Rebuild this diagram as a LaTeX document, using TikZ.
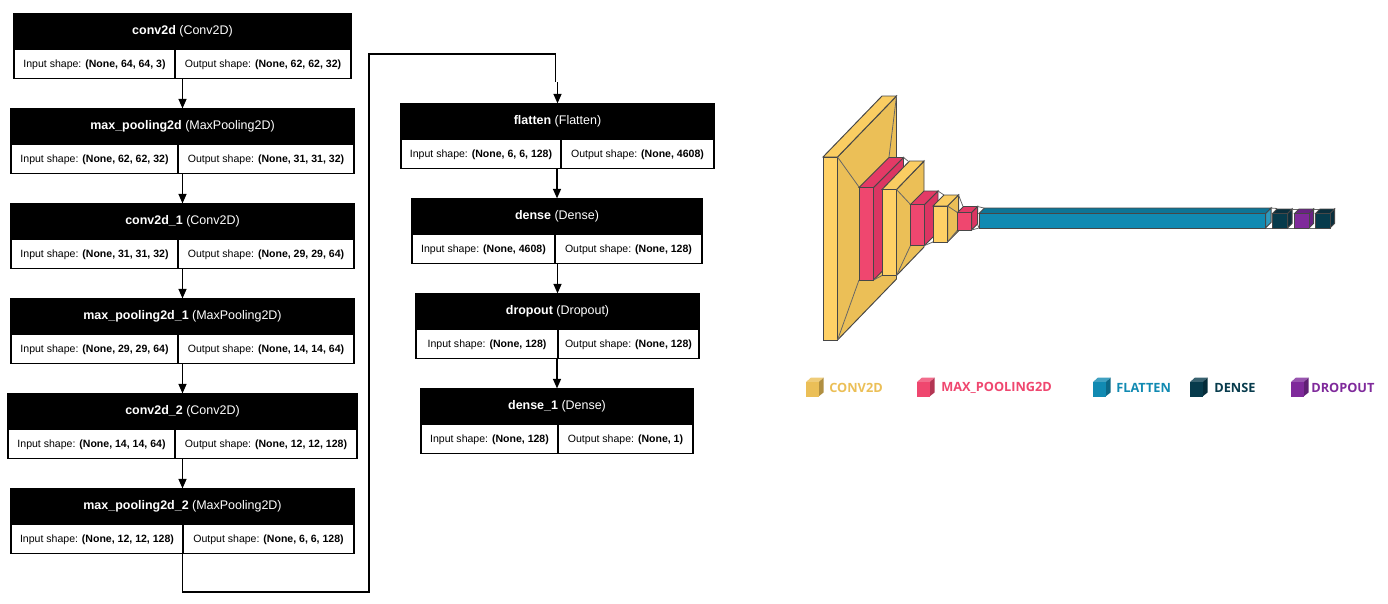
\documentclass[tikz,border=0pt]{standalone}
\usepackage{fontspec}
\setmainfont{Liberation Sans}
\newfontfamily\legendfont{Open Sans}
\usetikzlibrary{arrows.meta}
\definecolor{conv}{HTML}{FFD166}
\definecolor{convside}{HTML}{EBBF57}
\definecolor{convtop}{HTML}{FACD62}
\definecolor{pool}{HTML}{EF476F}
\definecolor{poolside}{HTML}{DB3562}
\definecolor{pooltop}{HTML}{E33A66}
\definecolor{flat}{HTML}{118AB2}
\definecolor{flatside}{HTML}{2E9ABD}
\definecolor{flattop}{HTML}{0E7596}
\definecolor{dens}{HTML}{073B4C}
\definecolor{densside}{HTML}{0A2F3D}
\definecolor{denstop}{HTML}{0A2F3D}
\definecolor{drop}{HTML}{7F2A9B}
\definecolor{dropside}{HTML}{6A2284}
\definecolor{droptop}{HTML}{6A2284}
\tikzset{
	head/.style={draw=black, fill=black, text=white, line width=0.6pt, inner sep=0pt, minimum height=0.68cm, font=\fontsize{7.1}{8}\selectfont},
	cell/.style={draw=black, fill=white, line width=0.9pt, inner sep=0pt, minimum height=0.58cm, text height=5.6pt, font=\fontsize{6}{7}\selectfont},
	flow/.style={line width=1pt, -{Triangle[length=5.5pt,width=4.5pt]}},
	edge3d/.style={line width=0.55pt, draw=black!72},
	tie/.style={line width=0.45pt, draw=black!60},
	legendtext/.style={inner sep=0pt, anchor=west, font=\legendfont\bfseries\fontsize{7.25}{8}\selectfont}
}
% #1 name, #2 left, #3 right, #4 split, #5 top
\def\layerbox(#1:#2:#3:#4:#5)(#6:#7)(#8:#9){%
	\node[head, minimum width={(#3-#2)*0.02cm}] (#1) at ({(#2+#3)/2}, #5+18) {\textbf{#6} #7};
	\node[cell, minimum width={(#4-#2)*0.02cm}] (#1_in) at ({(#2+#4)/2}, #5+51) {Input shape: \textbf{#8}};
	\node[cell, minimum width={(#3-#4)*0.02cm}] (#1_out) at ({(#3+#4)/2}, #5+51) {Output shape: \textbf{#9}};
}
% #1 colour, #2 left, #3 right, #4 top, #5 bottom, #6 depth x, #7 depth y
\def\cube[#1](#2:#3:#4:#5:#6:#7){%
	\filldraw[edge3d, fill=#1side] (#3, #4) -- ({#3+#6}, {#4-#7}) -- ({#3+#6}, {#5-#7}) -- (#3, #5) -- cycle;
	\filldraw[edge3d, fill=#1top] (#2, #4) -- ({#2+#6}, {#4-#7}) -- ({#3+#6}, {#4-#7}) -- (#3, #4) -- cycle;
	\filldraw[edge3d, fill=#1] (#2, #4) rectangle (#3, #5);
}
% #1 colour, #2 left
\def\legendcube[#1](#2){%
	\fill[#1!75!black] ({#2+12.5}, 382) -- ({#2+17.5}, 377.5) -- ({#2+17.5}, 392.5) -- ({#2+12.5}, 396.5) -- cycle;
	\fill[#1!80!white] (#2, 382) -- ({#2+5}, 377.5) -- ({#2+17.5}, 377.5) -- ({#2+12.5}, 382) -- cycle;
	\fill[#1] (#2, 382) rectangle ({#2+12.5}, 396.5);
}
\begin{document}
\begin{tikzpicture}[x=0.02cm, y=-0.02cm]
	\useasboundingbox (0, 0) rectangle (1388, 603);

	%%%%% LAYER BOXES %%%%%

	\layerbox(conv2d:14:351:175:13)(conv2d:(Conv2D))((None, 64, 64, 3):{(None, 62, 62, 32)})
	\layerbox(pool:11:354:178:108)(max\_pooling2d:(MaxPooling2D))((None, 62, 62, 32):{(None, 31, 31, 32)})
	\layerbox(conv2d_1:11:354:178:203)(conv2d\_1:(Conv2D))((None, 31, 31, 32):{(None, 29, 29, 64)})
	\layerbox(pool_1:11:354:178:298)(max\_pooling2d\_1:(MaxPooling2D))((None, 29, 29, 64):{(None, 14, 14, 64)})
	\layerbox(conv2d_2:8:357:175:393)(conv2d\_2:(Conv2D))((None, 14, 14, 64):{(None, 12, 12, 128)})
	\layerbox(pool_2:11:354:183:488)(max\_pooling2d\_2:(MaxPooling2D))((None, 12, 12, 128):{(None, 6, 6, 128)})

	\layerbox(flatten:401:714:561:103)(flatten:(Flatten))((None, 6, 6, 128):{(None, 4608)})
	\layerbox(dense:412:702:555:198)(dense:(Dense))((None, 4608):{(None, 128)})
	\layerbox(dropout:416:699:558:293)(dropout:(Dropout))((None, 128):{(None, 128)})
	\layerbox(dense_1:421:693:558:388)(dense\_1:(Dense))((None, 128):{(None, 1)})

	%%%%% ARROWS %%%%%

	\draw[flow] (conv2d_in.south -| pool.north) -- (pool.north);
	\draw[flow] (pool_in.south -| conv2d_1.north) -- (conv2d_1.north);
	\draw[flow] (conv2d_1_in.south -| pool_1.north) -- (pool_1.north);
	\draw[flow] (pool_1_in.south -| conv2d_2.north) -- (conv2d_2.north);
	\draw[flow] (conv2d_2_in.south -| pool_2.north) -- (pool_2.north);
	\draw[flow] (flatten_in.south -| dense.north) -- (dense.north);
	\draw[flow] (dense_in.south -| dropout.north) -- (dropout.north);
	\draw[flow] (dropout_in.south -| dense_1.north) -- (dense_1.north);

	\coordinate (bendB) at (369, 592);
	\coordinate (bendC) at (369, 54);
	\coordinate (bendD) at (555.5, 54);
	\coordinate (bendE) at (555.5, 82);
	\draw[line width=1pt] (pool_2_in.south -| pool_2.south) -- (pool_2.south |- bendB) -- (bendB) -- (bendC) -- (bendD) -- (bendE);
	\draw[flow] (bendE -| flatten.north) -- (flatten.north);

	%%%%% 3D VIEW %%%%%

	\cube[conv](823:837.5:157:340:59:61)
	\draw[tie] (837.5, 157) -- (859, 187);
	\draw[tie] (896.5, 96) -- (889, 157);
	\draw[tie] (837.5, 340) -- (859, 280);

	\cube[pool](859:873.5:187.5:280:30:30)
	\draw[tie] (903.5, 157.5) -- (908, 161);
	\draw[tie] (873.5, 280) -- (882, 275.5);

	\cube[conv](882:896.5:189.5:275.5:27.5:28.5)
	\draw[tie] (896.5, 189.5) -- (910.5, 204.5);
	\draw[tie] (896.5, 275.5) -- (910.5, 245.5);

	\cube[pool](910.5:924.5:204.5:245.5:13.5:13.5)
	\draw[tie] (938, 191) -- (944, 195);
	\draw[tie] (924.5, 245.5) -- (933, 242);
	\draw[tie] (938, 232) -- (933, 242);

	\cube[conv](933:947.5:206:242:11:11)
	\draw[tie] (958.5, 195) -- (963, 206.5);
	\draw[tie] (947.5, 206) -- (957.5, 212.5);
	\draw[tie] (947.5, 242) -- (957.5, 230);
	\draw[tie] (958.5, 231) -- (957.5, 230);

	\cube[pool](957.5:971.5:212.5:230:6:6)
	\draw[tie] (977.5, 206.5) -- (984, 208);
	\draw[tie] (971.5, 230) -- (979, 228);
	\draw[tie] (977.5, 224) -- (979, 228);

	\cube[flat](979:1265.5:213.5:228:5.5:5.5)
	\draw[tie] (1271, 208) -- (1277, 208.5);
	\draw[tie] (1265.5, 228) -- (1272.5, 228);

	\cube[dens](1272.5:1287.5:213.5:228:4.5:4.5)
	\draw[tie] (1292, 209) -- (1299, 209);
	\draw[tie] (1287.5, 228) -- (1294.5, 228);

	\cube[drop](1294.5:1309:213.5:228:4.5:4.5)
	\draw[tie] (1313.5, 209) -- (1320, 209);
	\draw[tie] (1309, 228) -- (1315.5, 228);

	\cube[dens](1315.5:1330:213.5:228:4.5:4.5)

	%%%%% LEGEND %%%%%

	\legendcube[convside](806)
	\node[legendtext, text=convside] (labconv) at (829, 387.5) {CONV2D};

	\legendcube[pool](917)
	\node[legendtext, text=pool] (labpool) at (941, 387.5) {MAX\_POOLING2D};

	\legendcube[flat](1093)
	\node[legendtext, text=flat] (labflat) at (1116, 387.5) {FLATTEN};

	\legendcube[dens](1190)
	\node[legendtext, text=dens] (labdens) at (1214, 387.5) {DENSE};

	\legendcube[drop](1291)
	\node[legendtext, text=drop] (labdrop) at (1311, 387.5) {DROPOUT};
\end{tikzpicture}
\end{document}
